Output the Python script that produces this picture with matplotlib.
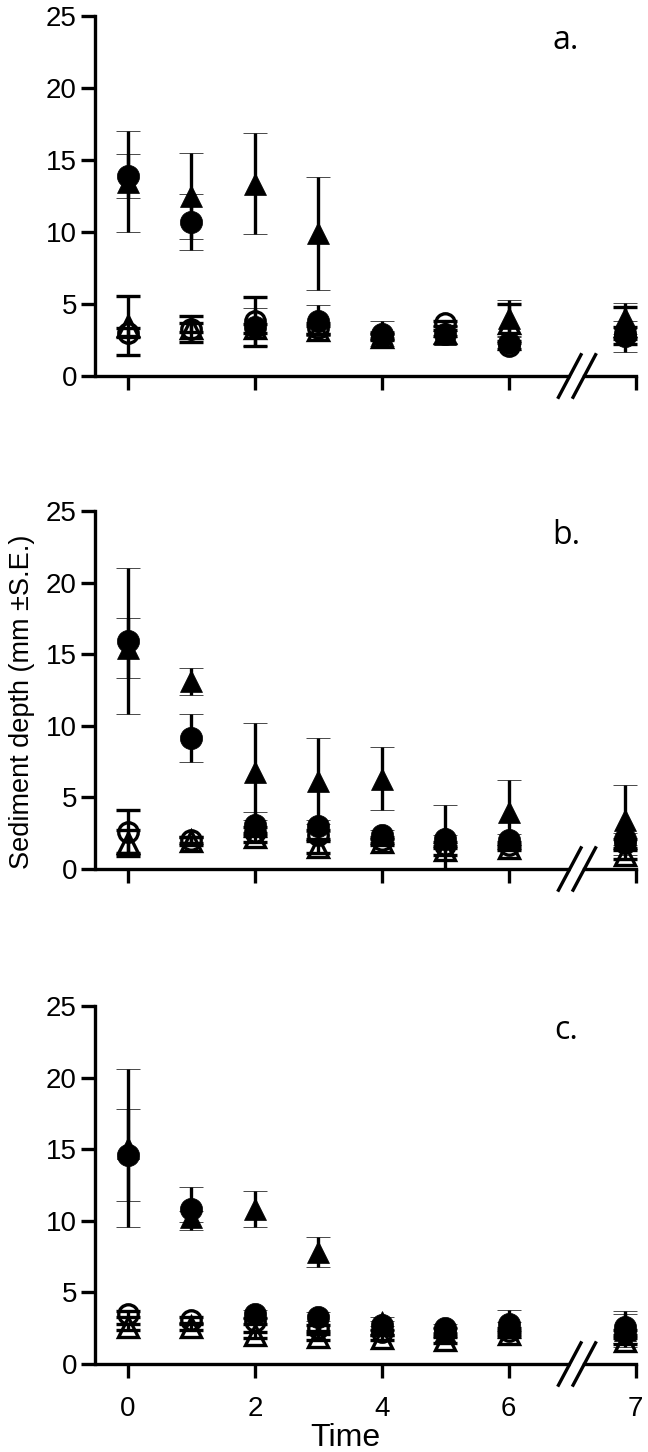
import matplotlib
matplotlib.use('Agg')
import matplotlib.pyplot as plt

# ---------------- data ----------------
times = [0, 1, 2, 3, 4, 5, 6, 7]
x_tick_vals = [0, 2, 4, 6, 7]
x_tick_labels = ['0', '2', '4', '6', '7']
y_ticks = [0, 5, 10, 15, 20, 25]
panel_labels = ['a.', 'b.', 'c.']

# panel a
a_fc = [13.9, 10.7, 3.4, 3.85, 2.95, 2.9, 2.3, 2.75]
a_fc_se = [1.55, 1.95, 1.3, 1.1, 0.9, 0.6, 0.5, 1.1]
a_ft = [13.5, 12.5, 13.35, 9.9, 2.9, 2.9, 4.0, 4.0]
a_ft_se = [3.5, 3.0, 3.5, 3.95, 0.2, 0.2, 1.3, 1.05]
a_oc = [3.0, 3.25, 3.8, 3.3, 2.8, 3.65, 2.1, 3.0]
a_oc_se = [0.3, 0.9, 1.72, 0.4, 0.2, 0.2, 0.2, 0.4]
a_ot = [3.5, 3.35, 3.3, 3.2, 2.7, 3.0, 3.7, 3.5]
a_ot_se = [2.05, 0.3, 0.3, 0.3, 0.2, 0.2, 1.3, 1.3]

# panel b
b_fc = [15.9, 9.15, 3.1, 3.0, 2.4, 2.1, 2.05, 2.1]
b_fc_se = [5.1, 1.65, 0.9, 0.4, 0.3, 0.3, 0.4, 0.4]
b_ft = [15.45, 13.1, 6.8, 6.15, 6.3, 2.3, 3.95, 3.4]
b_ft_se = [2.1, 0.95, 3.4, 3.0, 2.2, 2.2, 2.3, 2.45]
b_oc = [2.6, 2.05, 2.6, 2.4, 2.0, 1.7, 1.7, 1.8]
b_oc_se = [1.5, 0.2, 0.3, 0.3, 0.2, 0.2, 0.2, 0.3]
b_ot = [1.8, 1.95, 2.2, 1.55, 1.9, 1.3, 1.5, 1.0]
b_ot_se = [0.9, 0.3, 0.3, 0.4, 0.2, 0.3, 0.2, 0.3]

# panel c
c_fc = [14.6, 10.85, 3.5, 3.3, 2.7, 2.5, 2.8, 2.6]
c_fc_se = [3.2, 1.5, 0.3, 0.3, 0.3, 0.3, 1.0, 1.1]
c_ft = [15.1, 10.3, 10.8, 7.8, 2.95, 2.2, 2.6, 2.35]
c_ft_se = [5.5, 0.4, 1.25, 1.05, 0.3, 0.3, 0.3, 1.15]
c_oc = [3.5, 3.05, 3.0, 2.5, 2.2, 2.3, 2.3, 2.2]
c_oc_se = [0.2, 0.2, 0.2, 0.2, 0.2, 0.2, 0.2, 0.2]
c_ot = [2.6, 2.6, 2.05, 1.9, 1.85, 1.7, 2.1, 1.6]
c_ot_se = [0.2, 0.2, 0.2, 0.2, 0.2, 0.2, 0.2, 0.2]

panels = [
    (a_fc, a_fc_se, a_ft, a_ft_se, a_oc, a_oc_se, a_ot, a_ot_se),
    (b_fc, b_fc_se, b_ft, b_ft_se, b_oc, b_oc_se, b_ot, b_ot_se),
    (c_fc, c_fc_se, c_ft, c_ft_se, c_oc, c_oc_se, c_ot, c_ot_se),
]

# ---------------- layout ----------------
W, H = 648, 1452
fig = plt.figure(figsize=(W / 100, H / 100), dpi=100)
FONT = ['Liberation Sans', 'DejaVu Sans']
LW = 2.4

# axes pixel boxes (top of y=25, bottom at y=0)
boxes = [(16, 376), (511, 869), (1006, 1364)]
x_left_px, x_right_px = 95, 637
XMIN, XMAX = -0.52, 8.02


def xpos(t):
    # broken axis: time 7 drawn after the break
    return t if t <= 6 else 7.83


def tickpos(t):
    return t if t <= 6 else 8.0


for i, (box, data) in enumerate(zip(boxes, panels)):
    top, bot = box
    ax = fig.add_axes([x_left_px / W, 1 - bot / H,
                       (x_right_px - x_left_px) / W, (bot - top) / H])
    ax.set_xlim(XMIN, XMAX)
    ax.set_ylim(0, 25)
    for s in ['top', 'right', 'bottom']:
        ax.spines[s].set_visible(False)
    ax.spines['left'].set_linewidth(LW)
    ax.set_yticks(y_ticks)
    ax.set_yticklabels([str(v) for v in y_ticks], family=FONT)
    ax.set_xticks([tickpos(t) for t in x_tick_vals])
    if i == 2:
        ax.set_xticklabels(x_tick_labels, family=FONT)
    else:
        ax.set_xticklabels([])
    ax.tick_params(axis='both', direction='out', length=10, width=LW,
                   labelsize=20, colors='black')
    ax.tick_params(axis='y', pad=3)
    ax.tick_params(axis='x', pad=13)

    # x axis line with a break
    ax.plot([XMIN, 6.96], [0, 0], color='black', lw=LW, clip_on=False,
            solid_capstyle='butt', zorder=5)
    ax.plot([7.19, 8.0], [0, 0], color='black', lw=LW, clip_on=False,
            solid_capstyle='projecting', zorder=5)
    for cx in (6.96, 7.19):
        ax.plot([cx - 0.19, cx + 0.19], [-1.58, 1.58], color='black', lw=LW,
                clip_on=False, solid_capstyle='butt', zorder=5)

    fc, fc_se, ft, ft_se, oc, oc_se, ot, ot_se = data
    xs = [xpos(t) for t in times]
    common = dict(ls='none', ecolor='black', elinewidth=LW, capsize=8.3,
                  capthick=LW, clip_on=False)
    ax.errorbar(xs, ot, yerr=ot_se, fmt='^', ms=14.5, mfc='none', mec='black',
                mew=2.4, zorder=3, **common)
    ax.errorbar(xs, oc, yerr=oc_se, fmt='o', ms=14, mfc='none', mec='black',
                mew=2.4, zorder=3.1, **common)
    ax.errorbar(xs, ft, yerr=ft_se, fmt='^', ms=16, mfc='black', mec='black',
                mew=0.5, zorder=3.2, **common)
    ax.errorbar(xs, fc, yerr=fc_se, fmt='o', ms=16, mfc='black', mec='black',
                mew=0.5, zorder=3.3, **common)

    ax.text(6.9, 23.3, panel_labels[i], fontsize=23,
            family=['Open Sans', 'DejaVu Sans'], ha='center', va='center')

fig.text(22 / W, 1 - 702 / H, 'Sediment depth (mm \u00b1S.E.)', rotation=90,
         ha='center', va='center', fontsize=19.5, family=FONT)
fig.text(345 / W, 1 - 1438 / H, 'Time', ha='center', va='center',
         fontsize=23, family=FONT)

fig.savefig('out.png', dpi=100)
